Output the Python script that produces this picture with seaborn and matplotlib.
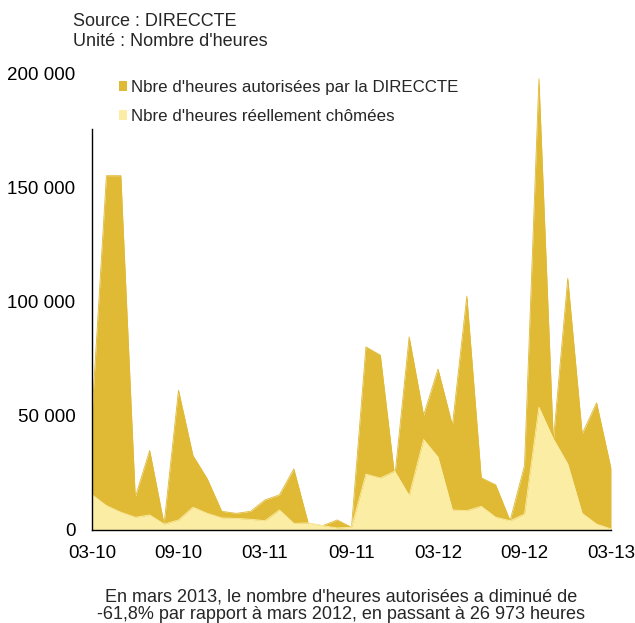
import matplotlib
matplotlib.use("Agg")
import matplotlib.pyplot as plt
from matplotlib.patches import Patch
import seaborn as sns
import pandas as pd
import numpy as np

months = ["03-10","04-10","05-10","06-10","07-10","08-10","09-10","10-10","11-10","12-10",
          "01-11","02-11","03-11","04-11","05-11","06-11","07-11","08-11","09-11","10-11",
          "11-11","12-11","01-12","02-12","03-12","04-12","05-12","06-12","07-12","08-12",
          "09-12","10-12","11-12","12-12","01-13","02-13","03-13"]
autorisees = [50500, 155400, 155400, 14400, 34900, 2600, 61300, 32700, 22400, 8200,
              7300, 8200, 13200, 15400, 26800, 2900, 1900, 4400, 1200, 80300,
              76700, 23200, 84700, 50300, 70610, 45900, 102600, 22900, 19800, 4100,
              28300, 197900, 39000, 110400, 42200, 55800, 26973]
chomees = [15500, 10700, 7800, 5600, 6600, 2600, 4400, 10000, 7300, 5300,
           5100, 4700, 4100, 8800, 2900, 3100, 1900, 900, 1200, 24500,
           22800, 25800, 15100, 39700, 32000, 8800, 8500, 10400, 5600, 4100,
           7000, 53900, 40000, 29000, 7300, 2600, 500]
tick_labels = ["03-10","09-10","03-11","09-11","03-12","09-12","03-13"]
series_names = ["Nbre d'heures autorisées par la DIRECCTE", "Nbre d'heures réellement chômées"]

sns.set_theme(style="white")
plt.rcParams['font.family'] = ['Liberation Sans', 'DejaVu Sans']

DARK = "#E0B935"
LIGHT = "#FCEDA5"

df = pd.DataFrame({"idx": np.arange(len(months)), "mois": months,
                   "aut": autorisees, "cho": chomees})

fig = plt.figure(figsize=(6.35, 6.23), dpi=100)
ax = fig.add_axes([92/635, 1-530/623, (611-92)/635, (530-74)/623])

ax.fill_between(df["idx"], 0, df["aut"], color=DARK, linewidth=0, zorder=1)
ax.fill_between(df["idx"], 0, df["cho"], color=LIGHT, linewidth=0, zorder=2)
sns.lineplot(data=df, x="idx", y="aut", ax=ax, color=DARK, linewidth=0.6, zorder=1.5)
sns.lineplot(data=df, x="idx", y="cho", ax=ax, color=LIGHT, linewidth=0.6, zorder=2.5)

ax.set_xlim(0, len(months) - 1)
ax.set_ylim(0, 200000)
ax.set_xlabel("")
ax.set_ylabel("")

tick_pos = [months.index(t) for t in tick_labels]
ax.set_xticks(tick_pos)
ax.set_xticklabels(tick_labels, fontsize=13.5)
yt = [0, 50000, 100000, 150000, 200000]
ax.set_yticks(yt)
ax.set_yticklabels([f"{v:,}".replace(",", " ") for v in yt], fontsize=13.5)
ax.tick_params(axis="both", which="both", direction="out", length=5, width=1,
               color="#888888", labelcolor="black")
ax.tick_params(axis="x", pad=6)
ax.tick_params(axis="y", pad=7)

for s in ["top", "right"]:
    ax.spines[s].set_visible(False)
for s in ["left", "bottom"]:
    ax.spines[s].set_color("black")
    ax.spines[s].set_linewidth(1)
ax.spines["left"].set_bounds(0, 176000)
ax.grid(False)

handles = [Patch(facecolor=DARK, edgecolor="none"), Patch(facecolor=LIGHT, edgecolor="none")]
ax.legend(handles, series_names, loc="upper left", bbox_to_anchor=(107/635, 1-68/623),
          bbox_transform=fig.transFigure, frameon=False, fontsize=12.2,
          handlelength=0.5, handleheight=0.5, handletextpad=0.22, labelspacing=0.83,
          borderpad=0.2)

fig.text(73/635, 1-21/623, "Source : DIRECCTE", fontsize=13, va="center", ha="left")
fig.text(73/635, 1-42/623, "Unité : Nombre d'heures", fontsize=13, va="center", ha="left")

fig.text(341/635, 1-606/623,
         "En mars 2013, le nombre d'heures autorisées a diminué de\n-61,8% par rapport à mars 2012, en passant à 26 973 heures",
         fontsize=13, ha="center", va="center", linespacing=1.05)

fig.savefig("out.png", dpi=100)
